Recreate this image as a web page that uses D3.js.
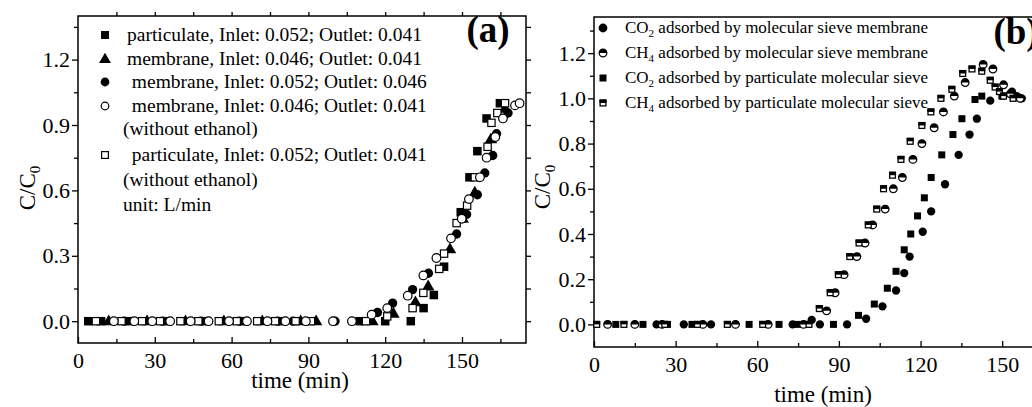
<!DOCTYPE html>
<html>
<head>
<meta charset="utf-8">
<script src="https://cdn.jsdelivr.net/npm/d3@7"></script>
<style>
  body { margin: 0; background: #fff; }
  svg text { font-family: "Liberation Serif", "Times New Roman", serif; fill: #000; font-weight: normal; }
  .axis path { display: none; }
  .axis line { stroke: #000; stroke-width: 1.3; }
</style>
</head>
<body>
<div id="chart"></div>
<script>
// panel (a): [time min, C/C0]
const aPartic = [[4,0],[9,0],[20,0],[35,0],[50,0],[65,0],[80,0],[110,0],[120,0],[130,0],[135,0.06],[139,0.12],[143,0.25],[149.5,0.50],[152.9,0.66],[156,0.78],[159.6,0.93],[164.8,1.00]];
const aMembA  = [[12,0],[27,0],[42,0],[57,0],[72,0],[87,0],[93,0],[115,0],[123.2,0.035],[131.8,0.087],[136.8,0.16],[145.3,0.33],[150.3,0.47],[155,0.59],[161.3,0.835],[166.8,0.975]];
const aMembB  = [[18,0],[33,0],[48,0],[63,0],[78,0],[84,0],[100.4,0],[117,0.04],[122.9,0.083],[130.7,0.145],[136.9,0.22],[147.9,0.40],[151.8,0.49],[156,0.58],[158.9,0.68],[162,0.76],[163.5,0.86],[168,0.955]];
const aMembNE = [[14,0],[22,0],[29,0],[36,0],[44,0],[51,0],[59,0],[66,0],[74,0],[81,0],[89,0],[99.6,0],[107,0],[114.7,0.03],[120.8,0.06],[128.8,0.117],[134.9,0.21],[140,0.29],[145.7,0.38],[149.9,0.47],[152.7,0.56],[157,0.66],[159.6,0.75],[163,0.845],[166,0.93],[170.7,0.99],[172.5,1.00]];
const aPartNE = [[7,0],[17,0],[25,0],[32,0],[40,0],[47,0],[55,0],[62,0],[70,0],[77,0],[85,0],[91,0],[112.5,0],[120.8,0.022],[130.7,0.06],[134.9,0.13],[141.1,0.24],[143,0.31],[147.9,0.45],[152,0.53],[155,0.66],[160,0.80],[161.5,0.91],[163.8,0.955],[166.8,1.00]];

// panel (b)
const bCO2Mem  = [[23,0],[33,0],[43,0],[73,0],[80,0.02],[83,0],[93,0],[100,0.025],[106,0.08],[111,0.15],[114,0.227],[116,0.30],[120.8,0.41],[123.9,0.50],[129,0.62],[134,0.75],[138,0.84],[140.7,0.91],[145.6,0.99],[153.6,1.03],[155.4,1.01],[157.2,1.00]];
const bCH4Mem  = [[5,0],[15,0],[25,0],[40,0],[52,0],[64,0],[77,0],[85.5,0.06],[88.6,0.14],[91.9,0.22],[96.6,0.30],[99.6,0.36],[102.4,0.44],[107,0.51],[110,0.60],[113.3,0.65],[117.2,0.73],[120.5,0.80],[125,0.87],[128.4,0.94],[132.4,1.01],[136.4,1.07],[143,1.15],[146.6,1.13],[150.5,1.06],[153,1.02],[156.6,1.00]];
const bCO2Part = [[8,0],[18,0],[27,0],[36,0],[57,0],[68,0],[75,0],[88,0],[97.2,0.04],[103,0.09],[107.8,0.16],[111,0.235],[114,0.33],[116.4,0.40],[118.9,0.48],[121.4,0.56],[123.9,0.65],[127.8,0.75],[131.9,0.84],[135.2,0.91],[140,0.995],[142.5,1.01],[149.9,1.01]];
const bCH4Part = [[1,0],[11,0],[26,0],[38,0],[49,0],[62,0],[79,0],[82.8,0.07],[86.8,0.14],[89.8,0.22],[94,0.30],[97.4,0.36],[100.8,0.44],[103.9,0.51],[106.4,0.60],[109.7,0.66],[112.8,0.73],[116.2,0.81],[120.5,0.88],[123.8,0.94],[127.5,1.00],[131.5,1.04],[135.5,1.11],[138.9,1.13],[142.5,1.12],[145.6,1.08],[147.4,1.05],[149,1.03],[150.5,1.01],[154,1.00]];

const aTicksX = [0, 30, 60, 90, 120, 150];
const aTicksY = [0, 0.3, 0.6, 0.9, 1.2];
const bTicksX = [0, 30, 60, 90, 120, 150];
const bTicksY = [0, 0.2, 0.4, 0.6, 0.8, 1.0, 1.2];

const aLegend = [
  { sym: 'sqF',  text: 'particulate, Inlet: 0.052; Outlet: 0.041' },
  { sym: 'triF', text: 'membrane, Inlet: 0.046; Outlet: 0.041' },
  { sym: 'cirF', text: ' membrane, Inlet: 0.052; Outlet: 0.046' },
  { sym: 'cirO', text: ' membrane, Inlet: 0.046; Outlet: 0.041' },
  { sym: null,   text: '(without ethanol)' },
  { sym: 'sqO',  text: ' particulate, Inlet: 0.052; Outlet: 0.041' },
  { sym: null,   text: '(without ethanol)' },
  { sym: null,   text: 'unit: L/min' }
];
const bLegend = [
  { sym: 'cirF', gas: 'CO', sub: '2', text: ' adsorbed by molecular sieve membrane' },
  { sym: 'cirH', gas: 'CH', sub: '4', text: ' adsorbed by molecular sieve membrane' },
  { sym: 'sqF',  gas: 'CO', sub: '2', text: ' adsorbed by particulate molecular sieve' },
  { sym: 'sqH',  gas: 'CH', sub: '4', text: ' adsorbed by particulate molecular sieve' }
];

const svg = d3.select('#chart').append('svg').attr('width', 1032).attr('height', 407);

// fattore di scala dei font: la prima riga della legenda (a) misura ~295px nell'originale
const probe = svg.append('text').style('font-size', '20px').text(aLegend[0].text);
const K = 295 / probe.node().getComputedTextLength() * 20 / 19.5;
probe.remove();
const fs = px => `${(px * K).toFixed(2)}px`;
const SERIF = '"Liberation Serif", "Times New Roman", serif';

// disegna un marker nella posizione data
function marker(g, type, x, y, s) {
  const h = s / 2;
  if (type === 'sqF') {
    g.append('rect').attr('x', x - h).attr('y', y - h).attr('width', s).attr('height', s).attr('fill', '#000');
  } else if (type === 'sqO') {
    g.append('rect').attr('x', x - h + 0.6).attr('y', y - h + 0.6).attr('width', s - 1.2).attr('height', s - 1.2)
      .attr('fill', '#fff').attr('stroke', '#000').attr('stroke-width', 1.2);
  } else if (type === 'cirF') {
    g.append('circle').attr('cx', x).attr('cy', y).attr('r', h + 0.4).attr('fill', '#000');
  } else if (type === 'cirO') {
    g.append('circle').attr('cx', x).attr('cy', y).attr('r', h - 0.2)
      .attr('fill', '#fff').attr('stroke', '#000').attr('stroke-width', 1.2);
  } else if (type === 'triF') {
    g.append('path').attr('d', d3.symbol(d3.symbolTriangle, s * s * 0.75)())
      .attr('transform', `translate(${x},${y + 0.5})`).attr('fill', '#000');
  } else if (type === 'cirH') {
    const r = h - 0.2;
    g.append('circle').attr('cx', x).attr('cy', y).attr('r', r)
      .attr('fill', '#fff').attr('stroke', '#000').attr('stroke-width', 1.3);
    g.append('path').attr('d', `M${x - r},${y} A${r},${r} 0 0 1 ${x + r},${y} Z`).attr('fill', '#000');
  } else if (type === 'sqH') {
    g.append('rect').attr('x', x - h + 0.6).attr('y', y - h + 0.6).attr('width', s - 1.2).attr('height', s - 1.2)
      .attr('fill', '#fff').attr('stroke', '#000').attr('stroke-width', 1.3);
    g.append('rect').attr('x', x - h).attr('y', y - h).attr('width', s).attr('height', h).attr('fill', '#000');
  }
}

function styleAxis(sel) {
  sel.attr('font-family', null).attr('font-size', null);
  sel.selectAll('text').style('font-family', SERIF).style('font-size', fs(22));
}

function panel(cfg) {
  const { x, y } = cfg;
  const g = svg.append('g');
  const [x0, x1] = x.range();
  const [y0, y1] = y.range();

  // tacche y (verso l'esterno)
  g.append('g').attr('class', 'axis').attr('transform', `translate(${x0},0)`)
    .call(d3.axisLeft(y).tickValues(cfg.ticksY).tickFormat(d3.format('.1f')).tickSize(6).tickPadding(2))
    .call(styleAxis);
  g.append('g').attr('class', 'axis').attr('transform', `translate(${x0},0)`)
    .call(d3.axisLeft(y).tickValues(cfg.minorY).tickFormat('').tickSize(4));
  if (cfg.rightAxis) {
    g.append('g').attr('class', 'axis').attr('transform', `translate(${x1},0)`)
      .call(d3.axisRight(y).tickValues(cfg.ticksY.concat(cfg.minorY)).tickFormat('').tickSize(5));
  }
  // tacche x (verso l'interno)
  g.append('g').attr('class', 'axis').attr('transform', `translate(0,${y0})`)
    .call(d3.axisBottom(x).tickValues(cfg.ticksX).tickFormat(d3.format('d')).tickSize(-6).tickPadding(9))
    .call(styleAxis);
  g.append('g').attr('class', 'axis').attr('transform', `translate(0,${y0})`)
    .call(d3.axisBottom(x).tickValues(cfg.minorX).tickFormat('').tickSize(-4));
  if (cfg.topAxis) {
    g.append('g').attr('class', 'axis').attr('transform', `translate(0,${y1})`)
      .call(d3.axisTop(x).tickValues(cfg.ticksX.concat(cfg.minorX).filter(d => d > 0)).tickFormat('').tickSize(4));
  }

  // cornice
  g.append('rect').attr('x', x0).attr('y', y1).attr('width', x1 - x0).attr('height', y0 - y1)
    .attr('fill', 'none').attr('stroke', '#000').attr('stroke-width', 1.5);

  // punti
  const pts = g.append('g');
  cfg.series.forEach(s => s.data.forEach(d => marker(pts, s.sym, x(d[0]), y(d[1]), s.size)));

  // titoli assi
  g.append('text').attr('x', cfg.xTitle[0]).attr('y', cfg.xTitle[1]).attr('text-anchor', 'middle')
    .style('font-size', fs(23)).text('time (min)');
  const yt = g.append('text').attr('transform', `translate(${cfg.yTitle[0]},${cfg.yTitle[1]}) rotate(-90)`)
    .attr('text-anchor', 'middle').style('font-size', fs(23));
  yt.append('tspan').text('C/C');
  yt.append('tspan').attr('dy', 5).style('font-size', fs(15)).text('0');

  // etichetta pannello
  g.append('text').attr('x', cfg.tag[0]).attr('y', cfg.tag[1]).attr('text-anchor', 'middle')
    .style('font-size', fs(37)).style('font-weight', 'bold').text(cfg.tagText);
  return g;
}

// Pannello (a)
const xA = d3.scaleLinear().domain([0, 175]).range([78, 526]);
const yA = d3.scaleLinear().domain([-0.1, 1.4]).range([343, 16]);
const gA = panel({
  x: xA, y: yA,
  ticksX: aTicksX, minorX: [15, 45, 75, 105, 135, 165],
  ticksY: aTicksY, minorY: [0.15, 0.45, 0.75, 1.05, 1.35],
  rightAxis: true, topAxis: true,
  xTitle: [300, 388], yTitle: [35, 188], tag: [488, 42], tagText: '(a)',
  series: [
    { sym: 'sqF',  size: 8.5, data: aPartic },
    { sym: 'triF', size: 9.5, data: aMembA },
    { sym: 'cirF', size: 8.5, data: aMembB },
    { sym: 'sqO',  size: 8.5, data: aPartNE },
    { sym: 'cirO', size: 9,   data: aMembNE }
  ]
});
const legA = gA.append('g');
aLegend.forEach((d, i) => {
  const cy = [35, 59, 82, 106, 129, 155, 180, 205][i];
  if (d.sym) marker(legA, d.sym, 105, cy, d.sym === 'triF' ? 9 : 8);
  legA.append('text').attr('x', d.sym ? 127 : 123).attr('y', cy + 6).style('font-size', fs(19.5))
    .attr('xml:space', 'preserve').text(d.text);
});

// Pannello (b)
const xB = d3.scaleLinear().domain([0, 165]).range([594, 1043]);
const yB = d3.scaleLinear().domain([-0.1, 1.36]).range([347, 17]);
const gB = panel({
  x: xB, y: yB,
  ticksX: bTicksX, minorX: [15, 45, 75, 105, 135],
  ticksY: bTicksY, minorY: [0.1, 0.3, 0.5, 0.7, 0.9, 1.1, 1.3],
  rightAxis: false, topAxis: false,
  xTitle: [823, 402], yTitle: [550, 187], tag: [1016, 44], tagText: '(b)',
  series: [
    { sym: 'cirF', size: 7.5, data: bCO2Mem },
    { sym: 'sqF',  size: 7,   data: bCO2Part },
    { sym: 'cirH', size: 8,   data: bCH4Mem },
    { sym: 'sqH',  size: 7,   data: bCH4Part }
  ]
});
const legB = gB.append('g');
bLegend.forEach((d, i) => {
  const cy = 28 + i * 25;
  marker(legB, d.sym, 603, cy, d.sym.startsWith('sq') ? 7 : 8);
  const t = legB.append('text').attr('x', 625).attr('y', cy + 5).style('font-size', fs(17)).attr('xml:space', 'preserve');
  t.append('tspan').text(d.gas);
  t.append('tspan').attr('dy', 4).style('font-size', fs(11)).text(d.sub);
  t.append('tspan').attr('dy', -4).text(d.text);
});
</script>
</body>
</html>
